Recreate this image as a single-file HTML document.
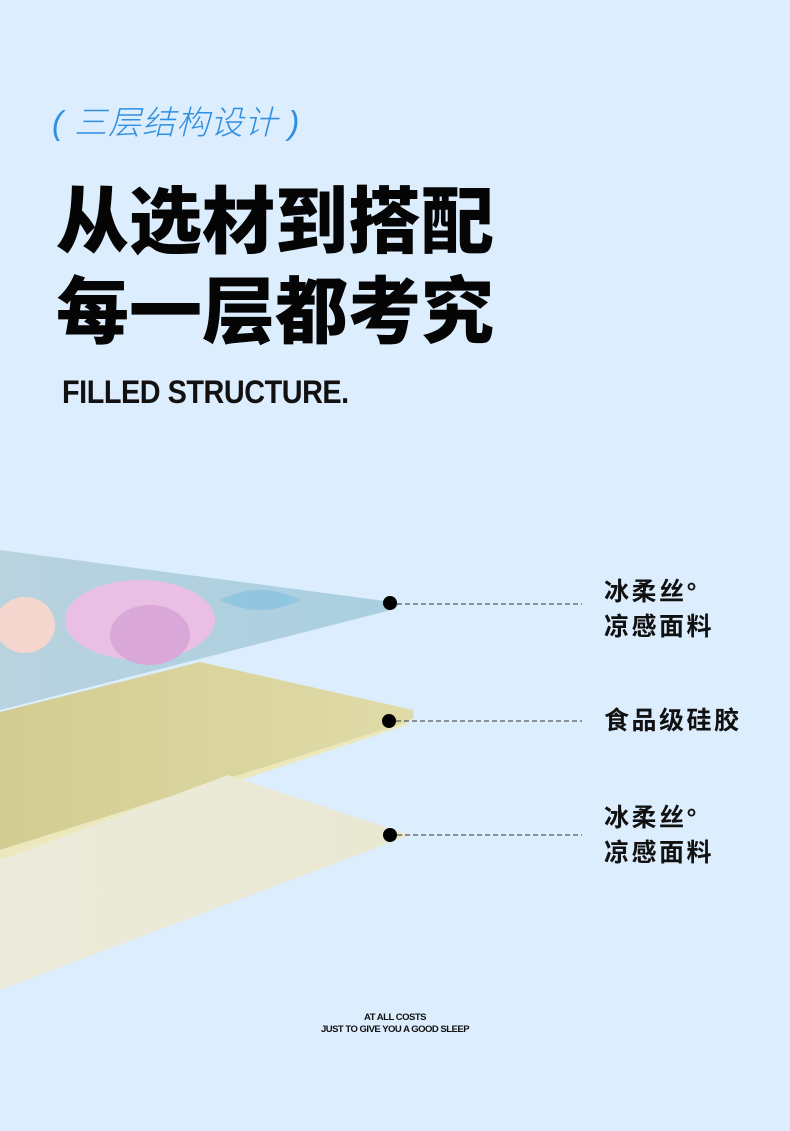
<!DOCTYPE html>
<html><head><meta charset="utf-8"><style>
body{margin:0;width:790px;height:1131px;background:#dcedfd;position:relative;overflow:hidden;font-family:"Liberation Sans","Noto Sans CJK SC",sans-serif}
.a{position:absolute;white-space:nowrap}
.sub{left:52px;top:96px;font-size:33px;color:#2f8fe0;font-style:italic;font-weight:300;letter-spacing:1px}
.big{left:56px;font-size:73px;font-weight:900;color:#050505;line-height:1;letter-spacing:0}
.en{left:62px;top:374px;font-size:32px;font-weight:bold;color:#111;letter-spacing:-0.5px;transform:scaleX(0.9);transform-origin:0 0}
.lab{left:604px;font-size:25px;font-weight:bold;color:#111;line-height:35px;letter-spacing:2.5px}
.sm{font-size:9.5px;color:#111;left:0;width:790px;text-align:center;letter-spacing:-0.5px;font-weight:bold}
</style></head><body>
<div class="a sub">( 三层结构设计 )</div>
<div class="a big" style="top:186px">从选材到搭配</div>
<div class="a big" style="top:276px">每一层都考究</div>
<div class="a en">FILLED STRUCTURE.</div>
<svg class="a" style="left:0;top:0" width="790" height="1131">
<defs>
<linearGradient id="fl" x1="0" y1="0" x2="1" y2="0"><stop offset="0" stop-color="#b9d3df"/><stop offset="1" stop-color="#a9cfe0"/></linearGradient>
<linearGradient id="yl" x1="0" y1="0" x2="1" y2="0"><stop offset="0" stop-color="#d3cc92"/><stop offset="1" stop-color="#e0dba8"/></linearGradient>
<linearGradient id="wl" x1="0" y1="0" x2="1" y2="0"><stop offset="0" stop-color="#ecebdb"/><stop offset="1" stop-color="#e9e8d2"/></linearGradient>
</defs>
<polygon points="0,550 400,603 395,609 0,710" fill="url(#fl)"/>
<ellipse cx="140" cy="620" rx="75" ry="40" fill="#e9bfe3"/>
<ellipse cx="150" cy="635" rx="40" ry="30" fill="#d9a7d8"/>
<ellipse cx="25" cy="625" rx="30" ry="28" fill="#f4d6cf"/>
<path d="M220,600 Q260,580 300,600 Q260,620 220,600Z" fill="#7fc0e0" opacity="0.6"/>
<polygon points="0,850 0,712 200,662 413,710 414,718 405,723" fill="url(#yl)"/>
<polygon points="405,723 0,850 0,860 410,724" fill="#ede8bb"/>
<polygon points="0,990 0,860 228,775 410,835" fill="url(#wl)"/>
<g fill="#000"><circle cx="390" cy="603" r="7"/><circle cx="389" cy="721" r="7"/><circle cx="390" cy="835" r="7"/></g>
<g stroke="#333" stroke-width="1" stroke-dasharray="5,3"><line x1="397" y1="604" x2="582" y2="604"/><line x1="396" y1="721" x2="582" y2="721"/><line x1="397" y1="835" x2="582" y2="835"/></g>
</svg>
<div class="a lab" style="top:575px">冰柔丝°<br>凉感面料</div>
<div class="a lab" style="top:704px">食品级硅胶</div>
<div class="a lab" style="top:801px">冰柔丝°<br>凉感面料</div>
<div class="a sm" style="top:1012px">AT ALL COSTS</div>
<div class="a sm" style="top:1024px">JUST TO GIVE YOU A GOOD SLEEP</div>
</body></html>
